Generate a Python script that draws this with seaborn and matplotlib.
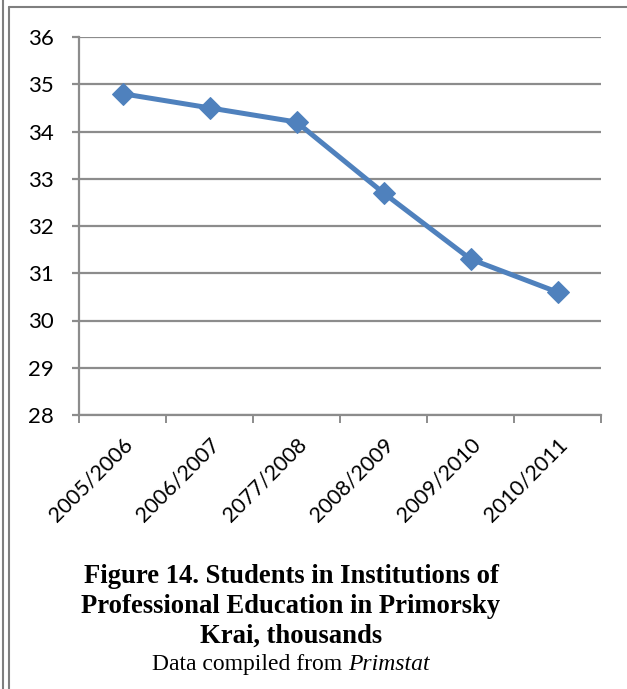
import matplotlib
matplotlib.use("Agg")
import matplotlib.pyplot as plt
from matplotlib.lines import Line2D
import seaborn as sns
import pandas as pd

# Students in institutions of professional education, thousands
years = ["2005/2006", "2006/2007", "2077/2008", "2008/2009", "2009/2010", "2010/2011"]
students = [34.8, 34.5, 34.2, 32.7, 31.3, 30.6]
y_ticks = [28, 29, 30, 31, 32, 33, 34, 35, 36]

W, H, DPI = 627, 689, 100
GRID = "#8c8c8c"
BLUE = "#4f81bd"

sns.set_theme(style="white")
plt.rcParams["font.family"] = ["Lato", "DejaVu Sans"]

fig = plt.figure(figsize=(W / DPI, H / DPI), dpi=DPI)
fig.patch.set_facecolor("white")

def px(x0, y0, x1, y1):
    return [x0 / W, 1 - y1 / H, (x1 - x0) / W, (y1 - y0) / H]

ax = fig.add_axes(px(79, 37, 601, 415))
df = pd.DataFrame({"year": years, "students": students})
df["pos"] = range(len(years))
sns.lineplot(data=df, x="pos", y="students", ax=ax, color=BLUE, linewidth=3.6,
             marker="D", markersize=11.5, markeredgecolor=BLUE, zorder=3)

ax.set_xlim(-0.5, len(years) - 0.5)
ax.set_ylim(y_ticks[0], y_ticks[-1])
ax.set_yticks(y_ticks)
ax.set_yticklabels([str(t) for t in y_ticks], fontsize=16, color="black")
ax.yaxis.grid(True, color=GRID, linewidth=1.6)
ax.xaxis.grid(False)

ax.set_xticks(range(len(years)))
ax.set_xticklabels(years, rotation=45, ha="right", rotation_mode="anchor",
                   fontsize=15.5, color="black")
ax.set_xticks([i - 0.5 for i in range(len(years) + 1)], minor=True)
ax.tick_params(axis="x", which="major", length=0, pad=14)
ax.tick_params(axis="x", which="minor", length=5.5, width=1.4, color=GRID, direction="out", bottom=True)
ax.tick_params(axis="y", length=5, width=1.6, color=GRID, direction="out", left=True, pad=13)
ax.set_xlabel("")
ax.set_ylabel("")

for side in ("top", "right"):
    ax.spines[side].set_visible(False)
for side in ("left", "bottom"):
    ax.spines[side].set_color(GRID)
    ax.spines[side].set_linewidth(1.6)

# Page frame lines
frame = dict(color="#7f7f7f", linewidth=1.5, transform=fig.transFigure)
fig.add_artist(Line2D([3 / W, 3 / W], [0, 1], **frame))
fig.add_artist(Line2D([9 / W, 9 / W], [0, 1 - 7 / H], **frame))
fig.add_artist(Line2D([9 / W, 1], [1 - 7 / H, 1 - 7 / H], **frame))

# Caption
cx = 291 / W
serif = ["Liberation Serif", "DejaVu Serif"]
for text, yy in [("Figure 14. Students in Institutions of", 583),
                 ("Professional Education in Primorsky", 613),
                 ("Krai, thousands", 643)]:
    fig.text(cx, 1 - yy / H, text, ha="center", va="baseline", fontsize=19.2,
             fontweight="bold", family=serif, color="black")

# Source line: regular text followed by the italic source name
renderer = fig.canvas.get_renderer()
t1 = fig.text(0, 1 - 670 / H, "Data compiled from ", ha="left", va="baseline",
              fontsize=17, family=serif, color="black")
t2 = fig.text(0, 1 - 670 / H, "Primstat", ha="left", va="baseline",
              fontsize=17, family=serif, style="italic", color="black")
w1 = t1.get_window_extent(renderer).width / W
w2 = t2.get_window_extent(renderer).width / W
start = cx - (w1 + w2) / 2
t1.set_x(start)
t2.set_x(start + w1)

fig.savefig("out.png", dpi=DPI)
